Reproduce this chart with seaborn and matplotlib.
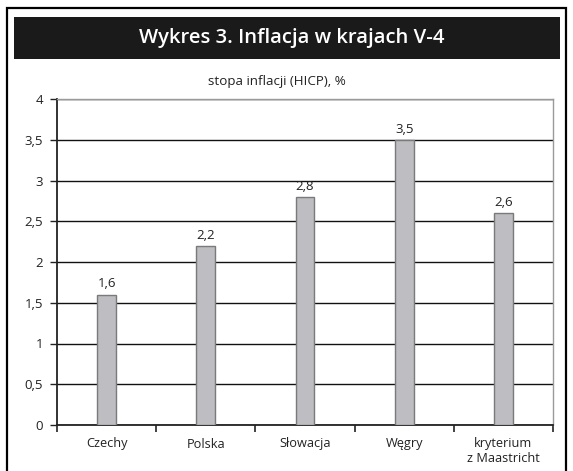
import matplotlib
matplotlib.use("Agg")
import matplotlib.pyplot as plt
import seaborn as sns
import pandas as pd
from matplotlib.patches import Rectangle
from matplotlib.ticker import FuncFormatter, MultipleLocator

categories = ["Czechy", "Polska", "Słowacja", "Węgry", "kryterium\nz Maastricht"]
values = [1.6, 2.2, 2.8, 3.5, 2.6]
value_labels = ["1,6", "2,2", "2,8", "3,5", "2,6"]
title = "Wykres 3. Inflacja w krajach V-4"
subtitle = "stopa inflacji (HICP), %"

sns.set_theme(style="white")
plt.rcParams['font.family'] = ['Open Sans', 'DejaVu Sans']

W, H = 573, 471
fig = plt.figure(figsize=(W / 100, H / 100), dpi=100)

def fx(px):
    return px / W

def fy(py):
    return 1 - py / H

# outer border
fig.patches.append(Rectangle((fx(7), fy(480)), fx(566) - fx(7), fy(8) - fy(480),
                             transform=fig.transFigure, fill=False, edgecolor="black",
                             linewidth=1.6, zorder=0))
# title bar
fig.patches.append(Rectangle((fx(14), fy(59)), fx(560) - fx(14), fy(17) - fy(59),
                             transform=fig.transFigure, facecolor="#1a1a1a",
                             edgecolor="none", zorder=1))
fig.text(fx(292), fy(37.5), title, color="white", fontsize=14.6, fontweight="semibold",
         ha="center", va="center", zorder=2)
fig.text(fx(277), fy(82), subtitle, color="#222222", fontsize=9.6, ha="center", va="center")

ax = fig.add_axes([fx(57), fy(425), fx(553) - fx(57), fy(99) - fy(425)])

df = pd.DataFrame({"kraj": categories, "wartosc": values})
sns.barplot(data=df, x="kraj", y="wartosc", ax=ax, width=0.19, color="#bdbdc2",
            edgecolor="#7a7a7a", linewidth=1.0, saturation=1, zorder=3)

ax.set_xlim(-0.5, len(categories) - 0.5)
ax.set_ylim(0, 4)
ax.yaxis.set_major_locator(MultipleLocator(0.5))
ax.yaxis.set_major_formatter(FuncFormatter(lambda v, p: f"{v:g}".replace(".", ",")))
ax.set_xlabel("")
ax.set_ylabel("")

ax.grid(axis="y", color="#111111", linewidth=1.0, zorder=0)
ax.set_axisbelow(True)

for s in ["top", "right"]:
    ax.spines[s].set_color("#9a9a9a")
    ax.spines[s].set_linewidth(1.0)
for s in ["left", "bottom"]:
    ax.spines[s].set_color("#222222")
    ax.spines[s].set_linewidth(1.3)

ax.set_xticks(range(len(categories)))
ax.set_xticklabels(categories)
ax.set_xticks([i - 0.5 for i in range(len(categories) + 1)], minor=True)
ax.tick_params(axis="x", which="major", length=0, pad=9, labelsize=9.2, labelcolor="#222222")
ax.tick_params(axis="x", which="minor", length=5, width=1.2, color="#222222", direction="out", bottom=True)
ax.tick_params(axis="y", which="major", length=5, width=1.0, color="#222222", direction="out",
               left=True, labelsize=9.5, labelcolor="#222222", pad=5)

for i, (v, lab) in enumerate(zip(values, value_labels)):
    ax.annotate(lab, (i, v), xytext=(0, 3), textcoords="offset points", ha="center",
                va="bottom", fontsize=9.5, color="#222222")

fig.savefig("out.png", dpi=100)
